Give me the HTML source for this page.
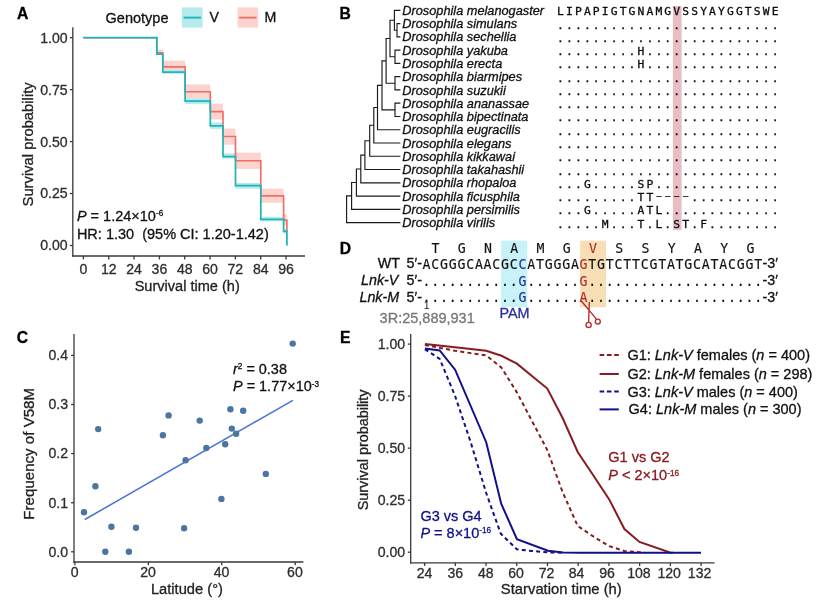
<!DOCTYPE html>
<html lang="en">
<head>
<meta charset="utf-8">
<title>Figure</title>
<style>
html,body{margin:0;padding:0;background:#fff;}
svg{display:block;font-family:"Liberation Sans", sans-serif;will-change:transform;stroke-width:0.3px;}

</style>
</head>
<body>
<svg width="830" height="606" viewBox="0 0 830 606">
<rect width="830" height="606" fill="#ffffff"/>
<text x="17.00" y="18.90" font-size="15.7" fill="#000" stroke="#000" font-weight="bold">A</text>
<text x="339.40" y="18.70" font-size="15.7" fill="#000" stroke="#000" font-weight="bold">B</text>
<text x="16.80" y="343.40" font-size="15.7" fill="#000" stroke="#000" font-weight="bold">C</text>
<text x="339.80" y="254.10" font-size="15.7" fill="#000" stroke="#000" font-weight="bold">D</text>
<text x="339.90" y="343.30" font-size="15.7" fill="#000" stroke="#000" font-weight="bold">E</text>
<rect x="156.80" y="49.50" width="6.00" height="5.00" fill="#fcd3cf"/>
<rect x="162.80" y="60.60" width="22.30" height="11.50" fill="#fcd3cf"/>
<rect x="185.10" y="84.40" width="25.20" height="13.80" fill="#fcd3cf"/>
<rect x="210.30" y="103.70" width="12.70" height="15.80" fill="#fcd3cf"/>
<rect x="223.00" y="128.50" width="12.50" height="16.20" fill="#fcd3cf"/>
<rect x="235.50" y="152.60" width="25.30" height="16.30" fill="#fcd3cf"/>
<rect x="260.80" y="188.70" width="22.80" height="14.10" fill="#fcd3cf"/>
<rect x="283.60" y="214.10" width="3.30" height="11.00" fill="#fcd3cf"/>
<rect x="156.80" y="53.10" width="6.00" height="2.00" fill="#b5ebed"/>
<rect x="162.80" y="70.10" width="22.30" height="3.80" fill="#b5ebed"/>
<rect x="185.10" y="98.20" width="25.20" height="6.00" fill="#b5ebed"/>
<rect x="210.30" y="122.40" width="12.70" height="6.50" fill="#b5ebed"/>
<rect x="223.00" y="153.30" width="12.50" height="5.20" fill="#b5ebed"/>
<rect x="235.50" y="183.00" width="25.30" height="5.70" fill="#b5ebed"/>
<rect x="260.80" y="216.90" width="22.80" height="4.50" fill="#b5ebed"/>
<rect x="283.60" y="229.30" width="3.30" height="4.00" fill="#b5ebed"/>
<path d="M83.20,37.70 H156.80 V52.70 H162.80 V66.90 H185.10 V91.70 H210.30 V111.60 H223.00 V136.50 H235.50 V160.70 H260.80 V195.90 H283.60 V220.10 H286.90 V220.10 V231.30" fill="none" stroke="#ee6f62" stroke-width="1.65" stroke-linejoin="miter"/>
<path d="M83.20,37.70 H156.80 V54.10 H162.80 V72.10 H185.10 V101.20 H210.30 V125.90 H223.00 V156.50 H235.50 V185.50 H260.80 V219.40 H283.60 V231.30 H286.90 V231.30 V245.40" fill="none" stroke="#21b4b9" stroke-width="1.75" stroke-linejoin="miter"/>
<line x1="72.80" y1="27.30" x2="72.80" y2="256.65" stroke="#383838" stroke-width="1.3" />
<line x1="72.15" y1="256.00" x2="305.00" y2="256.00" stroke="#383838" stroke-width="1.3" />
<line x1="69.90" y1="37.70" x2="72.80" y2="37.70" stroke="#383838" stroke-width="1.3" />
<text x="67.60" y="42.60" font-size="14.1" text-anchor="end" fill="#2e2e2e" stroke="#2e2e2e">1.00</text>
<line x1="69.90" y1="89.65" x2="72.80" y2="89.65" stroke="#383838" stroke-width="1.3" />
<text x="67.60" y="94.55" font-size="14.1" text-anchor="end" fill="#2e2e2e" stroke="#2e2e2e">0.75</text>
<line x1="69.90" y1="141.60" x2="72.80" y2="141.60" stroke="#383838" stroke-width="1.3" />
<text x="67.60" y="146.50" font-size="14.1" text-anchor="end" fill="#2e2e2e" stroke="#2e2e2e">0.50</text>
<line x1="69.90" y1="193.55" x2="72.80" y2="193.55" stroke="#383838" stroke-width="1.3" />
<text x="67.60" y="198.45" font-size="14.1" text-anchor="end" fill="#2e2e2e" stroke="#2e2e2e">0.25</text>
<line x1="69.90" y1="245.50" x2="72.80" y2="245.50" stroke="#383838" stroke-width="1.3" />
<text x="67.60" y="250.40" font-size="14.1" text-anchor="end" fill="#2e2e2e" stroke="#2e2e2e">0.00</text>
<line x1="83.40" y1="256.00" x2="83.40" y2="259.40" stroke="#383838" stroke-width="1.3" />
<text x="83.40" y="273.60" font-size="14.1" text-anchor="middle" fill="#2e2e2e" stroke="#2e2e2e">0</text>
<line x1="108.73" y1="256.00" x2="108.73" y2="259.40" stroke="#383838" stroke-width="1.3" />
<text x="108.73" y="273.60" font-size="14.1" text-anchor="middle" fill="#2e2e2e" stroke="#2e2e2e">12</text>
<line x1="134.06" y1="256.00" x2="134.06" y2="259.40" stroke="#383838" stroke-width="1.3" />
<text x="134.06" y="273.60" font-size="14.1" text-anchor="middle" fill="#2e2e2e" stroke="#2e2e2e">24</text>
<line x1="159.40" y1="256.00" x2="159.40" y2="259.40" stroke="#383838" stroke-width="1.3" />
<text x="159.40" y="273.60" font-size="14.1" text-anchor="middle" fill="#2e2e2e" stroke="#2e2e2e">36</text>
<line x1="184.73" y1="256.00" x2="184.73" y2="259.40" stroke="#383838" stroke-width="1.3" />
<text x="184.73" y="273.60" font-size="14.1" text-anchor="middle" fill="#2e2e2e" stroke="#2e2e2e">48</text>
<line x1="210.06" y1="256.00" x2="210.06" y2="259.40" stroke="#383838" stroke-width="1.3" />
<text x="210.06" y="273.60" font-size="14.1" text-anchor="middle" fill="#2e2e2e" stroke="#2e2e2e">60</text>
<line x1="235.39" y1="256.00" x2="235.39" y2="259.40" stroke="#383838" stroke-width="1.3" />
<text x="235.39" y="273.60" font-size="14.1" text-anchor="middle" fill="#2e2e2e" stroke="#2e2e2e">72</text>
<line x1="260.72" y1="256.00" x2="260.72" y2="259.40" stroke="#383838" stroke-width="1.3" />
<text x="260.72" y="273.60" font-size="14.1" text-anchor="middle" fill="#2e2e2e" stroke="#2e2e2e">84</text>
<line x1="286.06" y1="256.00" x2="286.06" y2="259.40" stroke="#383838" stroke-width="1.3" />
<text x="286.06" y="273.60" font-size="14.1" text-anchor="middle" fill="#2e2e2e" stroke="#2e2e2e">96</text>
<text x="187.20" y="291.10" font-size="14.55" text-anchor="middle" fill="#222" stroke="#222">Survival time (h)</text>
<text transform="translate(33.4,144.4) rotate(-90)" font-size="14.8" text-anchor="middle" fill="#222" stroke="#222">Survival probability</text>
<text x="105.60" y="22.60" font-size="14.5" fill="#111" stroke="#111">Genotype</text>
<rect x="181.9" y="7.4" width="20.7" height="20.2" fill="#b5ebed"/>
<line x1="183.50" y1="17.60" x2="201.00" y2="17.60" stroke="#21b4b9" stroke-width="1.9" />
<text x="209.60" y="22.30" font-size="14.2" fill="#111" stroke="#111">V</text>
<rect x="237.5" y="7.4" width="20.7" height="20.2" fill="#fcd3cf"/>
<line x1="239.10" y1="17.60" x2="256.60" y2="17.60" stroke="#ee6f62" stroke-width="1.8" />
<text x="264.60" y="22.30" font-size="14.2" fill="#111" stroke="#111">M</text>
<text x="76.9" y="220.6" font-size="14.5" fill="#111" stroke="#111"><tspan font-style="italic">P</tspan> = 1.24×10<tspan font-size="8.2" dy="-4.2">-6</tspan></text>
<text x="76.90" y="239.30" font-size="14.5" fill="#111" stroke="#111" xml:space="preserve">HR: 1.30  (95% CI: 1.20-1.42)</text>
<rect x="672.9" y="6" width="8.7" height="224" fill="#e8bdc3"/>
<g font-size="12.75" font-style="italic" fill="#111" stroke="#111">
<text x="402.3" y="14.90">Drosophila melanogaster</text>
<text x="402.3" y="28.17">Drosophila simulans</text>
<text x="402.3" y="41.44">Drosophila sechellia</text>
<text x="402.3" y="54.71">Drosophila yakuba</text>
<text x="402.3" y="67.98">Drosophila erecta</text>
<text x="402.3" y="81.25">Drosophila biarmipes</text>
<text x="402.3" y="94.52">Drosophila suzukii</text>
<text x="402.3" y="107.79">Drosophila ananassae</text>
<text x="402.3" y="121.06">Drosophila bipectinata</text>
<text x="402.3" y="134.33">Drosophila eugracilis</text>
<text x="402.3" y="147.60">Drosophila elegans</text>
<text x="402.3" y="160.87">Drosophila kikkawai</text>
<text x="402.3" y="174.14">Drosophila takahashii</text>
<text x="402.3" y="187.41">Drosophila rhopaloa</text>
<text x="402.3" y="200.68">Drosophila ficusphila</text>
<text x="402.3" y="213.95">Drosophila persimilis</text>
<text x="402.3" y="227.22">Drosophila virilis</text>
</g>
<g font-family='"DejaVu Sans Mono", "Liberation Mono", monospace' font-size='11.3' fill='#0c0c0c' stroke='#0c0c0c' stroke-width='0.3' text-anchor='middle'>
<text x="560.50 569.44 578.38 587.32 596.26 605.20 614.14 623.08 632.02 640.96 649.90 658.84 667.78 676.72 685.66 694.60 703.54 712.48 721.42 730.36 739.30 748.24 757.18 766.12 775.06" y="15.30">LIPAPIGTGNAMGVSSYAYGGTSWE</text>
<text x="560.50 569.44 578.38 587.32 596.26 605.20 614.14 623.08 632.02 640.96 649.90 658.84 667.78 676.72 685.66 694.60 703.54 712.48 721.42 730.36 739.30 748.24 757.18 766.12 775.06" y="28.57">.........................</text>
<text x="560.50 569.44 578.38 587.32 596.26 605.20 614.14 623.08 632.02 640.96 649.90 658.84 667.78 676.72 685.66 694.60 703.54 712.48 721.42 730.36 739.30 748.24 757.18 766.12 775.06" y="41.84">.........................</text>
<text x="560.50 569.44 578.38 587.32 596.26 605.20 614.14 623.08 632.02 640.96 649.90 658.84 667.78 676.72 685.66 694.60 703.54 712.48 721.42 730.36 739.30 748.24 757.18 766.12 775.06" y="55.11">.........H...............</text>
<text x="560.50 569.44 578.38 587.32 596.26 605.20 614.14 623.08 632.02 640.96 649.90 658.84 667.78 676.72 685.66 694.60 703.54 712.48 721.42 730.36 739.30 748.24 757.18 766.12 775.06" y="68.38">.........H...............</text>
<text x="560.50 569.44 578.38 587.32 596.26 605.20 614.14 623.08 632.02 640.96 649.90 658.84 667.78 676.72 685.66 694.60 703.54 712.48 721.42 730.36 739.30 748.24 757.18 766.12 775.06" y="81.65">.........................</text>
<text x="560.50 569.44 578.38 587.32 596.26 605.20 614.14 623.08 632.02 640.96 649.90 658.84 667.78 676.72 685.66 694.60 703.54 712.48 721.42 730.36 739.30 748.24 757.18 766.12 775.06" y="94.92">.........................</text>
<text x="560.50 569.44 578.38 587.32 596.26 605.20 614.14 623.08 632.02 640.96 649.90 658.84 667.78 676.72 685.66 694.60 703.54 712.48 721.42 730.36 739.30 748.24 757.18 766.12 775.06" y="108.19">.........................</text>
<text x="560.50 569.44 578.38 587.32 596.26 605.20 614.14 623.08 632.02 640.96 649.90 658.84 667.78 676.72 685.66 694.60 703.54 712.48 721.42 730.36 739.30 748.24 757.18 766.12 775.06" y="121.46">.........................</text>
<text x="560.50 569.44 578.38 587.32 596.26 605.20 614.14 623.08 632.02 640.96 649.90 658.84 667.78 676.72 685.66 694.60 703.54 712.48 721.42 730.36 739.30 748.24 757.18 766.12 775.06" y="134.73">.........................</text>
<text x="560.50 569.44 578.38 587.32 596.26 605.20 614.14 623.08 632.02 640.96 649.90 658.84 667.78 676.72 685.66 694.60 703.54 712.48 721.42 730.36 739.30 748.24 757.18 766.12 775.06" y="148.00">.........................</text>
<text x="560.50 569.44 578.38 587.32 596.26 605.20 614.14 623.08 632.02 640.96 649.90 658.84 667.78 676.72 685.66 694.60 703.54 712.48 721.42 730.36 739.30 748.24 757.18 766.12 775.06" y="161.27">.........................</text>
<text x="560.50 569.44 578.38 587.32 596.26 605.20 614.14 623.08 632.02 640.96 649.90 658.84 667.78 676.72 685.66 694.60 703.54 712.48 721.42 730.36 739.30 748.24 757.18 766.12 775.06" y="174.54">.........................</text>
<text x="560.50 569.44 578.38 587.32 596.26 605.20 614.14 623.08 632.02 640.96 649.90 658.84 667.78 676.72 685.66 694.60 703.54 712.48 721.42 730.36 739.30 748.24 757.18 766.12 775.06" y="187.81">...G.....SP..............</text>
<text x="560.50 569.44 578.38 587.32 596.26 605.20 614.14 623.08 632.02 640.96 649.90" y="201.08">.........TT</text>
<text transform="translate(658.84,198.68) scale(1.9,1)" stroke-width="0">-</text>
<text transform="translate(667.78,198.68) scale(1.9,1)" stroke-width="0">-</text>
<text transform="translate(676.72,198.68) scale(1.9,1)" stroke-width="0">-</text>
<text transform="translate(685.66,198.68) scale(1.9,1)" stroke-width="0">-</text>
<text x="694.60 703.54 712.48 721.42 730.36 739.30 748.24 757.18 766.12 775.06" y="201.08">..........</text>
<text x="560.50 569.44 578.38 587.32 596.26 605.20 614.14 623.08 632.02 640.96 649.90 658.84 667.78 676.72 685.66 694.60 703.54 712.48 721.42 730.36 739.30 748.24 757.18 766.12 775.06" y="214.35">...G.....ATL.............</text>
<text x="560.50 569.44 578.38 587.32 596.26 605.20 614.14 623.08 632.02 640.96 649.90 658.84 667.78 676.72 685.66 694.60 703.54 712.48 721.42 730.36 739.30 748.24 757.18 766.12 775.06" y="227.62">.....M...T.L.ST.F........</text>
</g>
<path d="M397.00,23.57H399.80M397.00,36.84H399.80M397.00,23.57V36.84M394.40,30.21H397.00M394.40,10.30H399.80M394.40,10.30V30.21M395.00,50.11H399.80M395.00,63.38H399.80M395.00,50.11V63.38M390.00,20.25H394.40M390.00,56.74H395.00M390.00,20.25V56.74M395.00,76.65H399.80M395.00,89.92H399.80M395.00,76.65V89.92M386.10,38.50H390.00M386.10,83.28H395.00M386.10,38.50V83.28M395.00,103.19H399.80M395.00,116.46H399.80M395.00,103.19V116.46M382.00,60.89H386.10M382.00,109.82H395.00M382.00,60.89V109.82M377.50,85.36H382.00M377.50,129.73H399.80M377.50,85.36V129.73M373.80,107.54H377.50M373.80,143.00H399.80M373.80,107.54V143.00M369.70,125.27H373.80M369.70,156.27H399.80M369.70,125.27V156.27M364.90,140.77H369.70M364.90,169.54H399.80M364.90,140.77V169.54M360.80,155.16H364.90M360.80,182.81H399.80M360.80,155.16V182.81M356.40,168.98H360.80M356.40,196.08H399.80M356.40,168.98V196.08M351.60,182.53H356.40M351.60,209.35H399.80M351.60,182.53V209.35M346.60,195.94H351.60M346.60,222.62H399.80M346.60,195.94V222.62" fill="none" stroke="#1a1a1a" stroke-width="1.15" stroke-linecap="square"/>
<rect x="501.1" y="240.7" width="26.1" height="66.2" fill="#c6f2f8"/>
<rect x="580.1" y="240.7" width="26.0" height="66.5" fill="#f8deb4"/>
<g font-family='"DejaVu Sans Mono", "Liberation Mono", monospace' font-size='13.2' fill='#111' stroke-width='0.15' text-anchor='middle' stroke="#111">
<text x="435.40" y="252.6" fill="#111" stroke="#111">T</text>
<text x="461.66" y="252.6" fill="#111" stroke="#111">G</text>
<text x="487.92" y="252.6" fill="#111" stroke="#111">N</text>
<text x="514.18" y="252.6" fill="#111" stroke="#111">A</text>
<text x="540.44" y="252.6" fill="#111" stroke="#111">M</text>
<text x="566.70" y="252.6" fill="#111" stroke="#111">G</text>
<text x="592.96" y="252.6" fill="#b32e2b" stroke="#b32e2b">V</text>
<text x="619.22" y="252.6" fill="#111" stroke="#111">S</text>
<text x="645.48" y="252.6" fill="#111" stroke="#111">S</text>
<text x="671.74" y="252.6" fill="#111" stroke="#111">Y</text>
<text x="698.00" y="252.6" fill="#111" stroke="#111">A</text>
<text x="724.26" y="252.6" fill="#111" stroke="#111">Y</text>
<text x="750.52" y="252.6" fill="#111" stroke="#111">G</text>
<text y="268.6"><tspan x="426.50">A</tspan><tspan x="435.23">C</tspan><tspan x="443.95">G</tspan><tspan x="452.68">G</tspan><tspan x="461.41">G</tspan><tspan x="470.13">C</tspan><tspan x="478.86">A</tspan><tspan x="487.59">A</tspan><tspan x="496.32">C</tspan><tspan x="505.04">G</tspan><tspan x="513.77">C</tspan><tspan x="522.50" fill="#2a2f9e" stroke="#2a2f9e">C</tspan><tspan x="531.22">A</tspan><tspan x="539.95">T</tspan><tspan x="548.68">G</tspan><tspan x="557.40">G</tspan><tspan x="566.13">G</tspan><tspan x="574.86">A</tspan><tspan x="583.59" fill="#b32e2b" stroke="#b32e2b">G</tspan><tspan x="592.31">T</tspan><tspan x="601.04">G</tspan><tspan x="609.77">T</tspan><tspan x="618.49">C</tspan><tspan x="627.22">T</tspan><tspan x="635.95">T</tspan><tspan x="644.67">C</tspan><tspan x="653.40">G</tspan><tspan x="662.13">T</tspan><tspan x="670.86">A</tspan><tspan x="679.58">T</tspan><tspan x="688.31">G</tspan><tspan x="697.04">C</tspan><tspan x="705.76">A</tspan><tspan x="714.49">T</tspan><tspan x="723.22">A</tspan><tspan x="731.94">C</tspan><tspan x="740.67">G</tspan><tspan x="749.40">G</tspan><tspan x="758.13">T</tspan></text>
<text y="285.6"><tspan x="426.50">.</tspan><tspan x="435.23">.</tspan><tspan x="443.95">.</tspan><tspan x="452.68">.</tspan><tspan x="461.41">.</tspan><tspan x="470.13">.</tspan><tspan x="478.86">.</tspan><tspan x="487.59">.</tspan><tspan x="496.32">.</tspan><tspan x="505.04">.</tspan><tspan x="513.77">.</tspan><tspan x="522.50" fill="#2a2f9e" stroke="#2a2f9e">G</tspan><tspan x="531.22">.</tspan><tspan x="539.95">.</tspan><tspan x="548.68">.</tspan><tspan x="557.40">.</tspan><tspan x="566.13">.</tspan><tspan x="574.86">.</tspan><tspan x="583.59" fill="#b32e2b" stroke="#b32e2b">G</tspan><tspan x="592.31">.</tspan><tspan x="601.04">.</tspan><tspan x="609.77">.</tspan><tspan x="618.49">.</tspan><tspan x="627.22">.</tspan><tspan x="635.95">.</tspan><tspan x="644.67">.</tspan><tspan x="653.40">.</tspan><tspan x="662.13">.</tspan><tspan x="670.86">.</tspan><tspan x="679.58">.</tspan><tspan x="688.31">.</tspan><tspan x="697.04">.</tspan><tspan x="705.76">.</tspan><tspan x="714.49">.</tspan><tspan x="723.22">.</tspan><tspan x="731.94">.</tspan><tspan x="740.67">.</tspan><tspan x="749.40">.</tspan><tspan x="758.13">.</tspan></text>
<text y="302.4"><tspan x="426.50">.</tspan><tspan x="435.23">.</tspan><tspan x="443.95">.</tspan><tspan x="452.68">.</tspan><tspan x="461.41">.</tspan><tspan x="470.13">.</tspan><tspan x="478.86">.</tspan><tspan x="487.59">.</tspan><tspan x="496.32">.</tspan><tspan x="505.04">.</tspan><tspan x="513.77">.</tspan><tspan x="522.50" fill="#2a2f9e" stroke="#2a2f9e">G</tspan><tspan x="531.22">.</tspan><tspan x="539.95">.</tspan><tspan x="548.68">.</tspan><tspan x="557.40">.</tspan><tspan x="566.13">.</tspan><tspan x="574.86">.</tspan><tspan x="583.59" fill="#b32e2b" stroke="#b32e2b">A</tspan><tspan x="592.31">.</tspan><tspan x="601.04">.</tspan><tspan x="609.77">.</tspan><tspan x="618.49">.</tspan><tspan x="627.22">.</tspan><tspan x="635.95">.</tspan><tspan x="644.67">.</tspan><tspan x="653.40">.</tspan><tspan x="662.13">.</tspan><tspan x="670.86">.</tspan><tspan x="679.58">.</tspan><tspan x="688.31">.</tspan><tspan x="697.04">.</tspan><tspan x="705.76">.</tspan><tspan x="714.49">.</tspan><tspan x="723.22">.</tspan><tspan x="731.94">.</tspan><tspan x="740.67">.</tspan><tspan x="749.40">.</tspan><tspan x="758.13">.</tspan></text>
</g>
<text x="400.00" y="268.10" font-size="14.3" text-anchor="end" fill="#111" stroke="#111">WT</text>
<text x="406.50" y="268.10" font-size="14.3" fill="#111" stroke="#111">5′-</text>
<text x="762.60" y="268.10" font-size="14.3" fill="#111" stroke="#111">-3′</text>
<text x="398.40" y="285.00" font-size="14.3" text-anchor="end" fill="#111" stroke="#111" font-style="italic">Lnk-V</text>
<text x="406.50" y="285.00" font-size="14.3" fill="#111" stroke="#111">5′-</text>
<text x="762.60" y="285.00" font-size="14.3" fill="#111" stroke="#111">-3′</text>
<text x="399.20" y="301.90" font-size="14.3" text-anchor="end" fill="#111" stroke="#111" font-style="italic">Lnk-M</text>
<text x="406.50" y="301.90" font-size="14.3" fill="#111" stroke="#111">5′-</text>
<text x="762.60" y="301.90" font-size="14.3" fill="#111" stroke="#111">-3′</text>
<text x="426.60" y="308.60" font-size="10.4" text-anchor="middle" fill="#222" stroke="#222" stroke-width="0">1</text>
<text x="379.60" y="322.80" font-size="14.5" fill="#777" stroke="#777">3R:25,889,931</text>
<text x="514.50" y="317.60" font-size="14.4" text-anchor="middle" fill="#2a2f9e" stroke="#2a2f9e">PAM</text>
<g fill="none" stroke="#b32e2b" stroke-width="1.35" stroke-linecap="round"><path d="M581.6,301.2 L596.2,318.9 M589.3,302.5 L588.6,322.2"/><circle cx="588.6" cy="324.9" r="2.6"/><circle cx="597.8" cy="321.6" r="2.5"/></g>
<line x1="74.00" y1="334.00" x2="74.00" y2="562.65" stroke="#383838" stroke-width="1.3" />
<line x1="73.35" y1="562.00" x2="303.40" y2="562.00" stroke="#383838" stroke-width="1.3" />
<line x1="71.10" y1="551.80" x2="74.00" y2="551.80" stroke="#383838" stroke-width="1.3" />
<text x="68.00" y="556.60" font-size="14.1" text-anchor="end" fill="#2e2e2e" stroke="#2e2e2e">0.0</text>
<line x1="71.10" y1="502.70" x2="74.00" y2="502.70" stroke="#383838" stroke-width="1.3" />
<text x="68.00" y="507.50" font-size="14.1" text-anchor="end" fill="#2e2e2e" stroke="#2e2e2e">0.1</text>
<line x1="71.10" y1="453.60" x2="74.00" y2="453.60" stroke="#383838" stroke-width="1.3" />
<text x="68.00" y="458.40" font-size="14.1" text-anchor="end" fill="#2e2e2e" stroke="#2e2e2e">0.2</text>
<line x1="71.10" y1="404.50" x2="74.00" y2="404.50" stroke="#383838" stroke-width="1.3" />
<text x="68.00" y="409.30" font-size="14.1" text-anchor="end" fill="#2e2e2e" stroke="#2e2e2e">0.3</text>
<line x1="71.10" y1="355.40" x2="74.00" y2="355.40" stroke="#383838" stroke-width="1.3" />
<text x="68.00" y="360.20" font-size="14.1" text-anchor="end" fill="#2e2e2e" stroke="#2e2e2e">0.4</text>
<line x1="74.90" y1="562.00" x2="74.90" y2="565.20" stroke="#383838" stroke-width="1.3" />
<text x="74.60" y="577.00" font-size="14.1" text-anchor="middle" fill="#2e2e2e" stroke="#2e2e2e">0</text>
<line x1="148.34" y1="562.00" x2="148.34" y2="565.20" stroke="#383838" stroke-width="1.3" />
<text x="148.04" y="577.00" font-size="14.1" text-anchor="middle" fill="#2e2e2e" stroke="#2e2e2e">20</text>
<line x1="221.78" y1="562.00" x2="221.78" y2="565.20" stroke="#383838" stroke-width="1.3" />
<text x="221.48" y="577.00" font-size="14.1" text-anchor="middle" fill="#2e2e2e" stroke="#2e2e2e">40</text>
<line x1="295.22" y1="562.00" x2="295.22" y2="565.20" stroke="#383838" stroke-width="1.3" />
<text x="294.92" y="577.00" font-size="14.1" text-anchor="middle" fill="#2e2e2e" stroke="#2e2e2e">60</text>
<text x="186.90" y="593.50" font-size="14.7" text-anchor="middle" fill="#222" stroke="#222">Latitude (°)</text>
<text transform="translate(34.2,453.8) rotate(-90)" font-size="15.1" text-anchor="middle" fill="#222" stroke="#222">Frequency of V58M</text>
<line x1="84.80" y1="519.50" x2="292.90" y2="400.30" stroke="#4672d8" stroke-width="1.5" />
<g fill="#4a76a0">
<circle cx="84.0" cy="512.2" r="3.2"/>
<circle cx="95.4" cy="486.2" r="3.2"/>
<circle cx="98.2" cy="429.1" r="3.2"/>
<circle cx="105.3" cy="551.8" r="3.2"/>
<circle cx="111.4" cy="526.8" r="3.2"/>
<circle cx="128.9" cy="551.8" r="3.2"/>
<circle cx="136.0" cy="527.7" r="3.2"/>
<circle cx="162.9" cy="435.2" r="3.2"/>
<circle cx="168.6" cy="415.4" r="3.2"/>
<circle cx="184.1" cy="528.2" r="3.2"/>
<circle cx="185.6" cy="460.2" r="3.2"/>
<circle cx="199.7" cy="420.6" r="3.2"/>
<circle cx="206.3" cy="448.0" r="3.2"/>
<circle cx="221.4" cy="498.9" r="3.2"/>
<circle cx="225.2" cy="444.2" r="3.2"/>
<circle cx="230.4" cy="409.2" r="3.2"/>
<circle cx="231.8" cy="428.6" r="3.2"/>
<circle cx="236.1" cy="433.8" r="3.2"/>
<circle cx="243.2" cy="410.7" r="3.2"/>
<circle cx="265.8" cy="473.9" r="3.2"/>
<circle cx="292.7" cy="343.6" r="3.2"/>
</g>
<text x="233" y="373.6" font-size="14.45" fill="#111" stroke="#111"><tspan font-style="italic">r</tspan><tspan font-size="8.2" dy="-4.2">2</tspan><tspan dy="4.2"> = 0.38</tspan></text>
<text x="233" y="391.0" font-size="14.45" fill="#111" stroke="#111"><tspan font-style="italic">P</tspan> = 1.77×10<tspan font-size="8.2" dy="-4.2">-3</tspan></text>
<line x1="410.70" y1="334.00" x2="410.70" y2="563.45" stroke="#383838" stroke-width="1.3" />
<line x1="410.05" y1="562.80" x2="714.50" y2="562.80" stroke="#383838" stroke-width="1.3" />
<line x1="407.80" y1="344.10" x2="410.70" y2="344.10" stroke="#383838" stroke-width="1.3" />
<text x="405.20" y="349.00" font-size="14.1" text-anchor="end" fill="#2e2e2e" stroke="#2e2e2e">1.00</text>
<line x1="407.80" y1="396.12" x2="410.70" y2="396.12" stroke="#383838" stroke-width="1.3" />
<text x="405.20" y="401.02" font-size="14.1" text-anchor="end" fill="#2e2e2e" stroke="#2e2e2e">0.75</text>
<line x1="407.80" y1="448.15" x2="410.70" y2="448.15" stroke="#383838" stroke-width="1.3" />
<text x="405.20" y="453.05" font-size="14.1" text-anchor="end" fill="#2e2e2e" stroke="#2e2e2e">0.50</text>
<line x1="407.80" y1="500.18" x2="410.70" y2="500.18" stroke="#383838" stroke-width="1.3" />
<text x="405.20" y="505.08" font-size="14.1" text-anchor="end" fill="#2e2e2e" stroke="#2e2e2e">0.25</text>
<line x1="407.80" y1="552.20" x2="410.70" y2="552.20" stroke="#383838" stroke-width="1.3" />
<text x="405.20" y="557.10" font-size="14.1" text-anchor="end" fill="#2e2e2e" stroke="#2e2e2e">0.00</text>
<line x1="424.60" y1="562.80" x2="424.60" y2="566.00" stroke="#383838" stroke-width="1.3" />
<text x="424.60" y="577.50" font-size="14.1" text-anchor="middle" fill="#2e2e2e" stroke="#2e2e2e">24</text>
<line x1="455.32" y1="562.80" x2="455.32" y2="566.00" stroke="#383838" stroke-width="1.3" />
<text x="455.32" y="577.50" font-size="14.1" text-anchor="middle" fill="#2e2e2e" stroke="#2e2e2e">36</text>
<line x1="486.04" y1="562.80" x2="486.04" y2="566.00" stroke="#383838" stroke-width="1.3" />
<text x="485.74" y="577.50" font-size="14.1" text-anchor="middle" fill="#2e2e2e" stroke="#2e2e2e">48</text>
<line x1="516.76" y1="562.80" x2="516.76" y2="566.00" stroke="#383838" stroke-width="1.3" />
<text x="516.06" y="577.50" font-size="14.1" text-anchor="middle" fill="#2e2e2e" stroke="#2e2e2e">60</text>
<line x1="547.48" y1="562.80" x2="547.48" y2="566.00" stroke="#383838" stroke-width="1.3" />
<text x="546.48" y="577.50" font-size="14.1" text-anchor="middle" fill="#2e2e2e" stroke="#2e2e2e">72</text>
<line x1="578.20" y1="562.80" x2="578.20" y2="566.00" stroke="#383838" stroke-width="1.3" />
<text x="576.50" y="577.50" font-size="14.1" text-anchor="middle" fill="#2e2e2e" stroke="#2e2e2e">84</text>
<line x1="608.92" y1="562.80" x2="608.92" y2="566.00" stroke="#383838" stroke-width="1.3" />
<text x="607.12" y="577.50" font-size="14.1" text-anchor="middle" fill="#2e2e2e" stroke="#2e2e2e">96</text>
<line x1="639.64" y1="562.80" x2="639.64" y2="566.00" stroke="#383838" stroke-width="1.3" />
<text x="638.94" y="577.50" font-size="14.1" text-anchor="middle" fill="#2e2e2e" stroke="#2e2e2e">108</text>
<line x1="670.36" y1="562.80" x2="670.36" y2="566.00" stroke="#383838" stroke-width="1.3" />
<text x="669.16" y="577.50" font-size="14.1" text-anchor="middle" fill="#2e2e2e" stroke="#2e2e2e">120</text>
<line x1="701.08" y1="562.80" x2="701.08" y2="566.00" stroke="#383838" stroke-width="1.3" />
<text x="699.58" y="577.50" font-size="14.1" text-anchor="middle" fill="#2e2e2e" stroke="#2e2e2e">132</text>
<text x="561.30" y="593.50" font-size="14.8" text-anchor="middle" fill="#222" stroke="#222">Starvation time (h)</text>
<text transform="translate(368.2,449.9) rotate(-90)" font-size="14.4" text-anchor="middle" fill="#222" stroke="#222">Survival probability</text>
<polyline points="424.90,344.90 455.10,350.80 486.20,355.40 501.50,367.70 516.90,392.40 532.00,421.00 547.30,450.10 562.50,491.80 577.70,526.00 592.90,536.20 609.20,546.10 624.40,551.00 639.50,552.30 645.00,552.70" fill="none" stroke="#881b21" stroke-width="2.0" stroke-dasharray="4.0 3.2"/>
<polyline points="424.90,343.90 455.10,347.30 486.20,350.80 501.50,355.80 516.90,363.70 547.30,388.60 562.50,417.80 577.70,452.00 592.90,474.70 609.20,499.40 624.40,529.00 639.50,541.90 669.90,552.40 673.00,552.70" fill="none" stroke="#881b21" stroke-width="2.0" />
<polyline points="424.90,349.30 439.70,358.80 455.10,396.00 470.60,441.90 486.20,493.00 500.80,533.80 516.90,549.40 531.90,551.00 548.00,552.40 563.00,552.70" fill="none" stroke="#10108a" stroke-width="2.0" stroke-dasharray="4.0 3.2"/>
<polyline points="424.90,348.50 439.70,350.40 455.10,369.70 486.20,442.20 501.20,503.70 516.90,539.10 548.00,550.70 563.00,552.40 580.00,552.70 701.00,552.70" fill="none" stroke="#10108a" stroke-width="2.0" />
<line x1="599.60" y1="355.00" x2="618.80" y2="355.00" stroke="#881b21" stroke-width="2.0" stroke-dasharray="4.6 2.7"/>
<text x="627.4" y="359.90" font-size="14.5" fill="#111" xml:space="preserve" stroke="#111">G1: <tspan font-style="italic">Lnk-V</tspan> females (<tspan font-style="italic">n</tspan> = 400)</text>
<line x1="599.60" y1="374.00" x2="618.80" y2="374.00" stroke="#881b21" stroke-width="2.0" />
<text x="627.4" y="378.90" font-size="14.5" fill="#111" xml:space="preserve" stroke="#111">G2: <tspan font-style="italic">Lnk-M</tspan> females (<tspan font-style="italic">n</tspan> = 298)</text>
<line x1="599.60" y1="391.60" x2="618.80" y2="391.60" stroke="#10108a" stroke-width="2.0" stroke-dasharray="4.6 2.7"/>
<text x="627.4" y="396.50" font-size="14.5" fill="#111" xml:space="preserve" stroke="#111">G3: <tspan font-style="italic">Lnk-V</tspan> males (<tspan font-style="italic">n</tspan> = 400)</text>
<line x1="599.60" y1="409.40" x2="618.80" y2="409.40" stroke="#10108a" stroke-width="2.0" />
<text x="628.6" y="414.30" font-size="14.5" fill="#111" xml:space="preserve" stroke="#111">G4: <tspan font-style="italic">Lnk-M</tspan> males (<tspan font-style="italic">n</tspan> = 300)</text>
<text x="608.3" y="462" font-size="14.5" fill="#881b21" stroke="#881b21">G1 vs G2</text>
<text x="608.3" y="479.8" font-size="14.5" fill="#881b21" stroke="#881b21"><tspan font-style="italic">P</tspan> &lt; 2×10<tspan font-size="8.2" dy="-4.2">-16</tspan></text>
<text x="420.4" y="520.6" font-size="14.5" fill="#10108a" stroke="#10108a">G3 vs G4</text>
<text x="420.4" y="537.6" font-size="14.5" fill="#10108a" stroke="#10108a"><tspan font-style="italic">P</tspan> = 8×10<tspan font-size="8.2" dy="-4.2">-16</tspan></text>
</svg>
</body>
</html>
